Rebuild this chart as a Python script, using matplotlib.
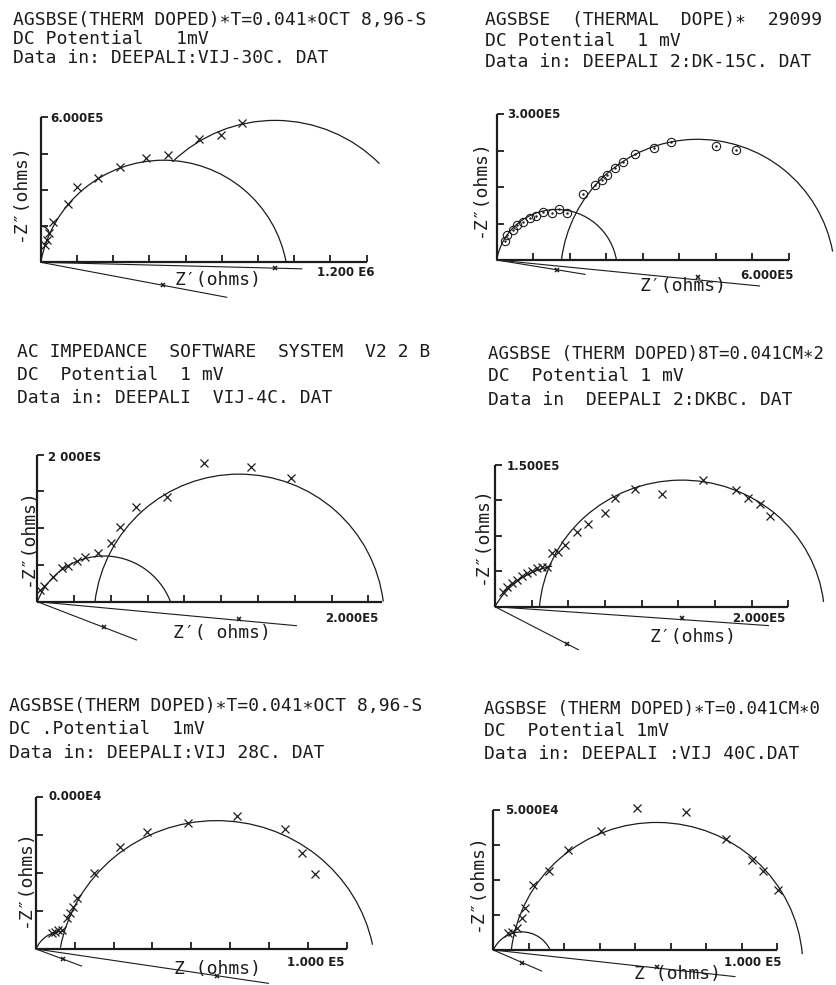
import matplotlib
matplotlib.use("Agg")
import matplotlib.pyplot as plt
from matplotlib.patches import Arc

W, H = 837, 985
INK = "#1c1c1c"
MONO = ["DejaVu Sans Mono", "DejaVu Sans"]

# ---- data (ohms) ----
# arcs: (centre x, centre y, radius, theta1, theta2)
p1_arcs = [(508.6e3, -94e3, 517e3, 10.5, 169.5),
           (971e3, -24e3, 612e3, 45.0, 134.0),
           (0.0, 113e3, 37e3, 0.0, 90.0)]
p1_line_ends = [(771e3, -145e3), (1082e3, -27e3)]
p1_x = [18e3, 25e3, 35e3, 53e3, 115e3, 152e3, 239e3, 329e3, 437e3, 529e3, 654e3, 746e3, 833e3]
p1_y = [72e3, 93e3, 120e3, 169e3, 240e3, 311e3, 351e3, 394e3, 434e3, 445e3, 510e3, 528e3, 576e3]

p2_arcs = [(123e3, -21e3, 124.8e3, 9.7, 170.3),
           (413e3, -34e3, 282e3, 10.5, 173.1)]
p2_line_ends = [(181.5e3, -29.5e3), (540e3, -53.4e3)]
p2_x = [17.1e3, 21.9e3, 32.9e3, 42.5e3, 54.8e3, 68.5e3, 80.8e3, 95.9e3, 113.0e3, 128.1e3, 143.9e3,
        178.1e3, 202.1e3, 215.8e3, 227.4e3, 243.2e3, 260.3e3, 284.3e3, 323.3e3, 358.3e3, 450.7e3, 491.8e3]
p2_y = [39.0e3, 51.4e3, 61.7e3, 71.9e3, 77.4e3, 85.6e3, 90.4e3, 98.0e3, 97.3e3, 104.1e3, 95.9e3,
        134.9e3, 154.1e3, 164.4e3, 174.7e3, 189.7e3, 200.7e3, 217.1e3, 230.8e3, 243.2e3, 234.3e3, 226.1e3]

p3_arcs = [(90.5e3, -34.8e3, 96.9e3, 21.0, 159.0),
           (274.2e3, -24e3, 197.3e3, 7.0, 173.0)]
p3_line_ends = [(134.8e3, -52e3), (352e3, -32.6e3)]
p3_x = [3.6e3, 9.0e3, 20.8e3, 33.0e3, 42.1e3, 53.4e3, 64.7e3, 82.8e3, 100.0e3, 112.2e3,
        133.9e3, 175.6e3, 226.3e3, 291.0e3, 344.4e3]
p3_y = [15.8e3, 21.3e3, 33.9e3, 45.3e3, 48.4e3, 55.2e3, 60.2e3, 65.6e3, 79.2e3, 101.8e3,
        129.0e3, 142.5e3, 187.8e3, 183.3e3, 167.4e3]

p4_arcs = [(74e3, -39.5e3, 83.9e3, 100.7, 151.9),
           (191e3, -12e3, 146e3, 6.7, 175.3)]
p4_line_ends = [(85.2e3, -45.5e3), (279.5e3, -20e3)]
p4_x = [8.5e3, 11.9e3, 17.0e3, 22.2e3, 27.3e3, 32.4e3, 37.5e3, 42.6e3, 47.7e3, 52.8e3, 58.0e3, 64.8e3,
        71.6e3, 83.5e3, 95.5e3, 112.5e3, 122.7e3, 143.2e3, 170.5e3, 212.4e3, 246.5e3, 259.1e3, 271.0e3, 281.2e3]
p4_y = [15.9e3, 21.2e3, 24.7e3, 28.2e3, 32.8e3, 35.3e3, 37.8e3, 40.6e3, 42.3e3, 42.3e3, 56.5e3, 57.5e3,
        65.3e3, 79.4e3, 87.2e3, 98.8e3, 114.7e3, 124.6e3, 118.9e3, 134.1e3, 123.5e3, 115.4e3, 108.3e3, 96.3e3]

p5_arcs = [(13.7e3, -5.45e3, 14.7e3, 88.6, 158.3),
           (93.1e3, -14.2e3, 81.9e3, 11.6, 169.5)]
p5_line_ends = [(23.5e3, -9.0e3), (119.7e3, -18.1e3)]
p5_x = [8.1e3, 9.8e3, 11.5e3, 13.2e3, 15.8e3, 17.5e3, 19.2e3, 20.9e3, 30.0e3, 43.3e3, 57.3e3,
        78.1e3, 103.7e3, 128.3e3, 136.8e3, 143.7e3]
p5_y = [8.6e3, 9.1e3, 10.0e3, 10.0e3, 16.2e3, 19.2e3, 22.3e3, 26.7e3, 39.9e3, 54.0e3, 61.9e3,
        66.6e3, 70.1e3, 63.1e3, 50.5e3, 39.6e3]

p6_arcs = [(10.0e3, -4.5e3, 10.97e3, 24.2, 155.8),
           (57.5e3, -5.95e3, 51.5e3, 5.0, 173.4)]
p6_line_ends = [(17.0e3, -7.5e3), (85.1e3, -9.5e3)]
p6_x = [5.3e3, 6.5e3, 8.5e3, 10.0e3, 11.2e3, 13.9e3, 19.7e3, 26.2e3, 37.8e3, 50.5e3, 67.9e3,
        81.9e3, 91.0e3, 95.1e3, 100.4e3]
p6_y = [6.0e3, 6.5e3, 7.7e3, 11.5e3, 14.9e3, 23.2e3, 28.2e3, 35.7e3, 42.5e3, 50.8e3, 49.4e3,
        39.5e3, 32.1e3, 28.2e3, 21.4e3]

headers = [
    ["AGSBSE(THERM DOPED)\u2217T=0.041\u2217OCT 8,96-S", "DC Potential   1mV", "Data in: DEEPALI:VIJ-30C. DAT"],
    ["AGSBSE  (THERMAL  DOPE)\u2217  29099", "DC Potential  1 mV", "Data in: DEEPALI 2:DK-15C. DAT"],
    ["AC IMPEDANCE  SOFTWARE  SYSTEM  V2 2 B", "DC  Potential  1 mV", "Data in: DEEPALI  VIJ-4C. DAT"],
    ["AGSBSE (THERM DOPED)8T=0.041CM\u22172", "DC  Potential 1 mV", "Data in  DEEPALI 2:DKBC. DAT"],
    ["AGSBSE(THERM DOPED)\u2217T=0.041\u2217OCT 8,96-S", "DC .Potential  1mV", "Data in: DEEPALI:VIJ 28C. DAT"],
    ["AGSBSE (THERM DOPED)\u2217T=0.041CM\u22170", "DC  Potential 1mV", "Data in: DEEPALI :VIJ 40C.DAT"],
]
y_top_labels = ["6.000E5", "3.000E5", "2 000ES", "1.500E5", "0.000E4", "5.000E4"]
x_end_labels = ["1.200 E6", "6.000E5", "2.000E5", "2.000E5", "1.000 E5", "1.000 E5"]
x_titles = ["Z\u2032(ohms)", "Z\u2032(ohms)", "Z\u2032( ohms)", "Z\u2032(ohms)", "Z (ohms)", "Z (ohms)"]
y_titles = ["-Z\u2033(ohms)", "-Z\u2033(ohms)", "-Z\u2033(ohms)", "-Z\u2033(ohms)", "-Z\u2033(ohms)", "-Z\u2033(ohms)"]

panels = [
    dict(arcs=p1_arcs, ends=p1_line_ends, x=p1_x, y=p1_y, marker="x"),
    dict(arcs=p2_arcs, ends=p2_line_ends, x=p2_x, y=p2_y, marker="o"),
    dict(arcs=p3_arcs, ends=p3_line_ends, x=p3_x, y=p3_y, marker="x"),
    dict(arcs=p4_arcs, ends=p4_line_ends, x=p4_x, y=p4_y, marker="x"),
    dict(arcs=p5_arcs, ends=p5_line_ends, x=p5_x, y=p5_y, marker="x"),
    dict(arcs=p6_arcs, ends=p6_line_ends, x=p6_x, y=p6_y, marker="x"),
]

# ---- page layout (pixels) ----
# origin px, px per tick (x, y), ohms per tick, n x ticks, x axis end in ticks
layout = [
    dict(org=(40.7, 262.3), ppx=36.2, ppy=36.2, tick=1.5e5, nx=9, xend=9, box=(0, 95, 420, 330)),
    dict(org=(496.7, 260.0), ppx=36.5, ppy=36.5, tick=7.5e4, nx=8, xend=8, box=(420, 95, 837, 330)),
    dict(org=(37.3, 601.7), ppx=36.8, ppy=36.8, tick=5e4, nx=9, xend=9.37, box=(0, 440, 420, 680)),
    dict(org=(495.0, 606.7), ppx=36.67, ppy=35.42, tick=3.75e4, nx=8, xend=8, box=(420, 440, 837, 680)),
    dict(org=(36.0, 949.0), ppx=38.83, ppy=37.92, tick=2e4, nx=8, xend=8, box=(0, 780, 420, 985)),
    dict(org=(493.3, 950.0), ppx=35.5, ppy=35.0, tick=1.25e4, nx=8, xend=8, box=(420, 780, 837, 985)),
]
header_pos = [(13, (20, 39, 58)), (485, (20, 41, 62)), (17, (352, 375, 398)),
              (488, (354, 376, 400)), (9, (706, 729, 753)), (484, (709, 731, 754))]
header_l1_size = [13, 13, 13, 12.5, 13, 12.5]
ylab_pos = [(20, 192), (480, 188), (28, 537), (482, 535), (25, 878), (477, 882)]
xlab_pos = [(218, 280), (683, 286), (222, 633), (693, 637), (218, 969), (677, 974)]
ytop_pos = [(50, 118), (507, 115), (48, 458), (507, 466), (49, 797), (505, 811)]
xend_pos = [(317, 272), (740, 275), (325, 618), (732, 619), (287, 963), (724, 963)]

fig = plt.figure(figsize=(W / 100, H / 100), dpi=100)
fig.patch.set_facecolor("white")


def ftext(x, y, s, **kw):
    fig.text(x / W, 1 - y / H, s, color=INK, **kw)


for i, (p, lay) in enumerate(zip(panels, layout)):
    l, t, r, b = lay["box"]
    ox, oy = lay["org"]
    tk = lay["tick"]
    ax = fig.add_axes([l / W, 1 - b / H, (r - l) / W, (b - t) / H])
    ax.set_xlim((l - ox) / lay["ppx"] * tk, (r - ox) / lay["ppx"] * tk)
    ax.set_ylim((oy - b) / lay["ppy"] * tk, (oy - t) / lay["ppy"] * tk)
    ax.axis("off")

    # plotter style axes with inward ticks
    ymax = 4 * tk
    xmax = lay["xend"] * tk
    ax.plot([0, 0], [0, ymax], color=INK, lw=1.6, solid_capstyle="butt")
    ax.plot([0, xmax], [0, 0], color=INK, lw=1.6, solid_capstyle="butt")
    ax.plot([0] * 4, [tk * k for k in range(1, 5)], ls="none", marker=1, ms=5, mew=1.3, color=INK)
    ax.plot([tk * k for k in range(1, lay["nx"] + 1)], [0] * lay["nx"], ls="none", marker=2, ms=5,
            mew=1.3, color=INK)

    # fitted (depressed) semicircles
    for cx, cy, rad, t1, t2 in p["arcs"]:
        ax.add_patch(Arc((cx, cy), 2 * rad, 2 * rad, theta1=t1, theta2=t2, color=INK, lw=0.9))

    # radius lines from origin through the circle centres
    for (ex, ey), arc in zip(p["ends"], p["arcs"]):
        ax.plot([0, ex], [0, ey], color=INK, lw=0.8)
        ax.plot(arc[0], arc[1], marker="x", ms=3.5, mew=1.1, color=INK)

    if p["marker"] == "o":
        ax.plot(p["x"], p["y"], ls="none", marker="o", ms=6, mfc="none", mew=0.8, color=INK)
        ax.plot(p["x"], p["y"], ls="none", marker=".", ms=1.5, color=INK)
    else:
        ax.plot(p["x"], p["y"], ls="none", marker="x", ms=5.5, mew=0.9, color=INK)

    hx, hys = header_pos[i]
    for k, (s, hy) in enumerate(zip(headers[i], hys)):
        fs = header_l1_size[i] if k == 0 else 13
        ftext(hx, hy, s, fontsize=fs, family=MONO, va="center", ha="left")
    ftext(*ylab_pos[i], y_titles[i], fontsize=13, family=MONO, rotation=90, va="center", ha="center")
    ftext(*xlab_pos[i], x_titles[i], fontsize=13, family=MONO, va="center", ha="center")
    ftext(*ytop_pos[i], y_top_labels[i], fontsize=8.5, fontweight="bold", va="center", ha="left")
    ftext(*xend_pos[i], x_end_labels[i], fontsize=8.5, fontweight="bold", va="center", ha="left")

fig.savefig("out.png", dpi=100, facecolor="white")
